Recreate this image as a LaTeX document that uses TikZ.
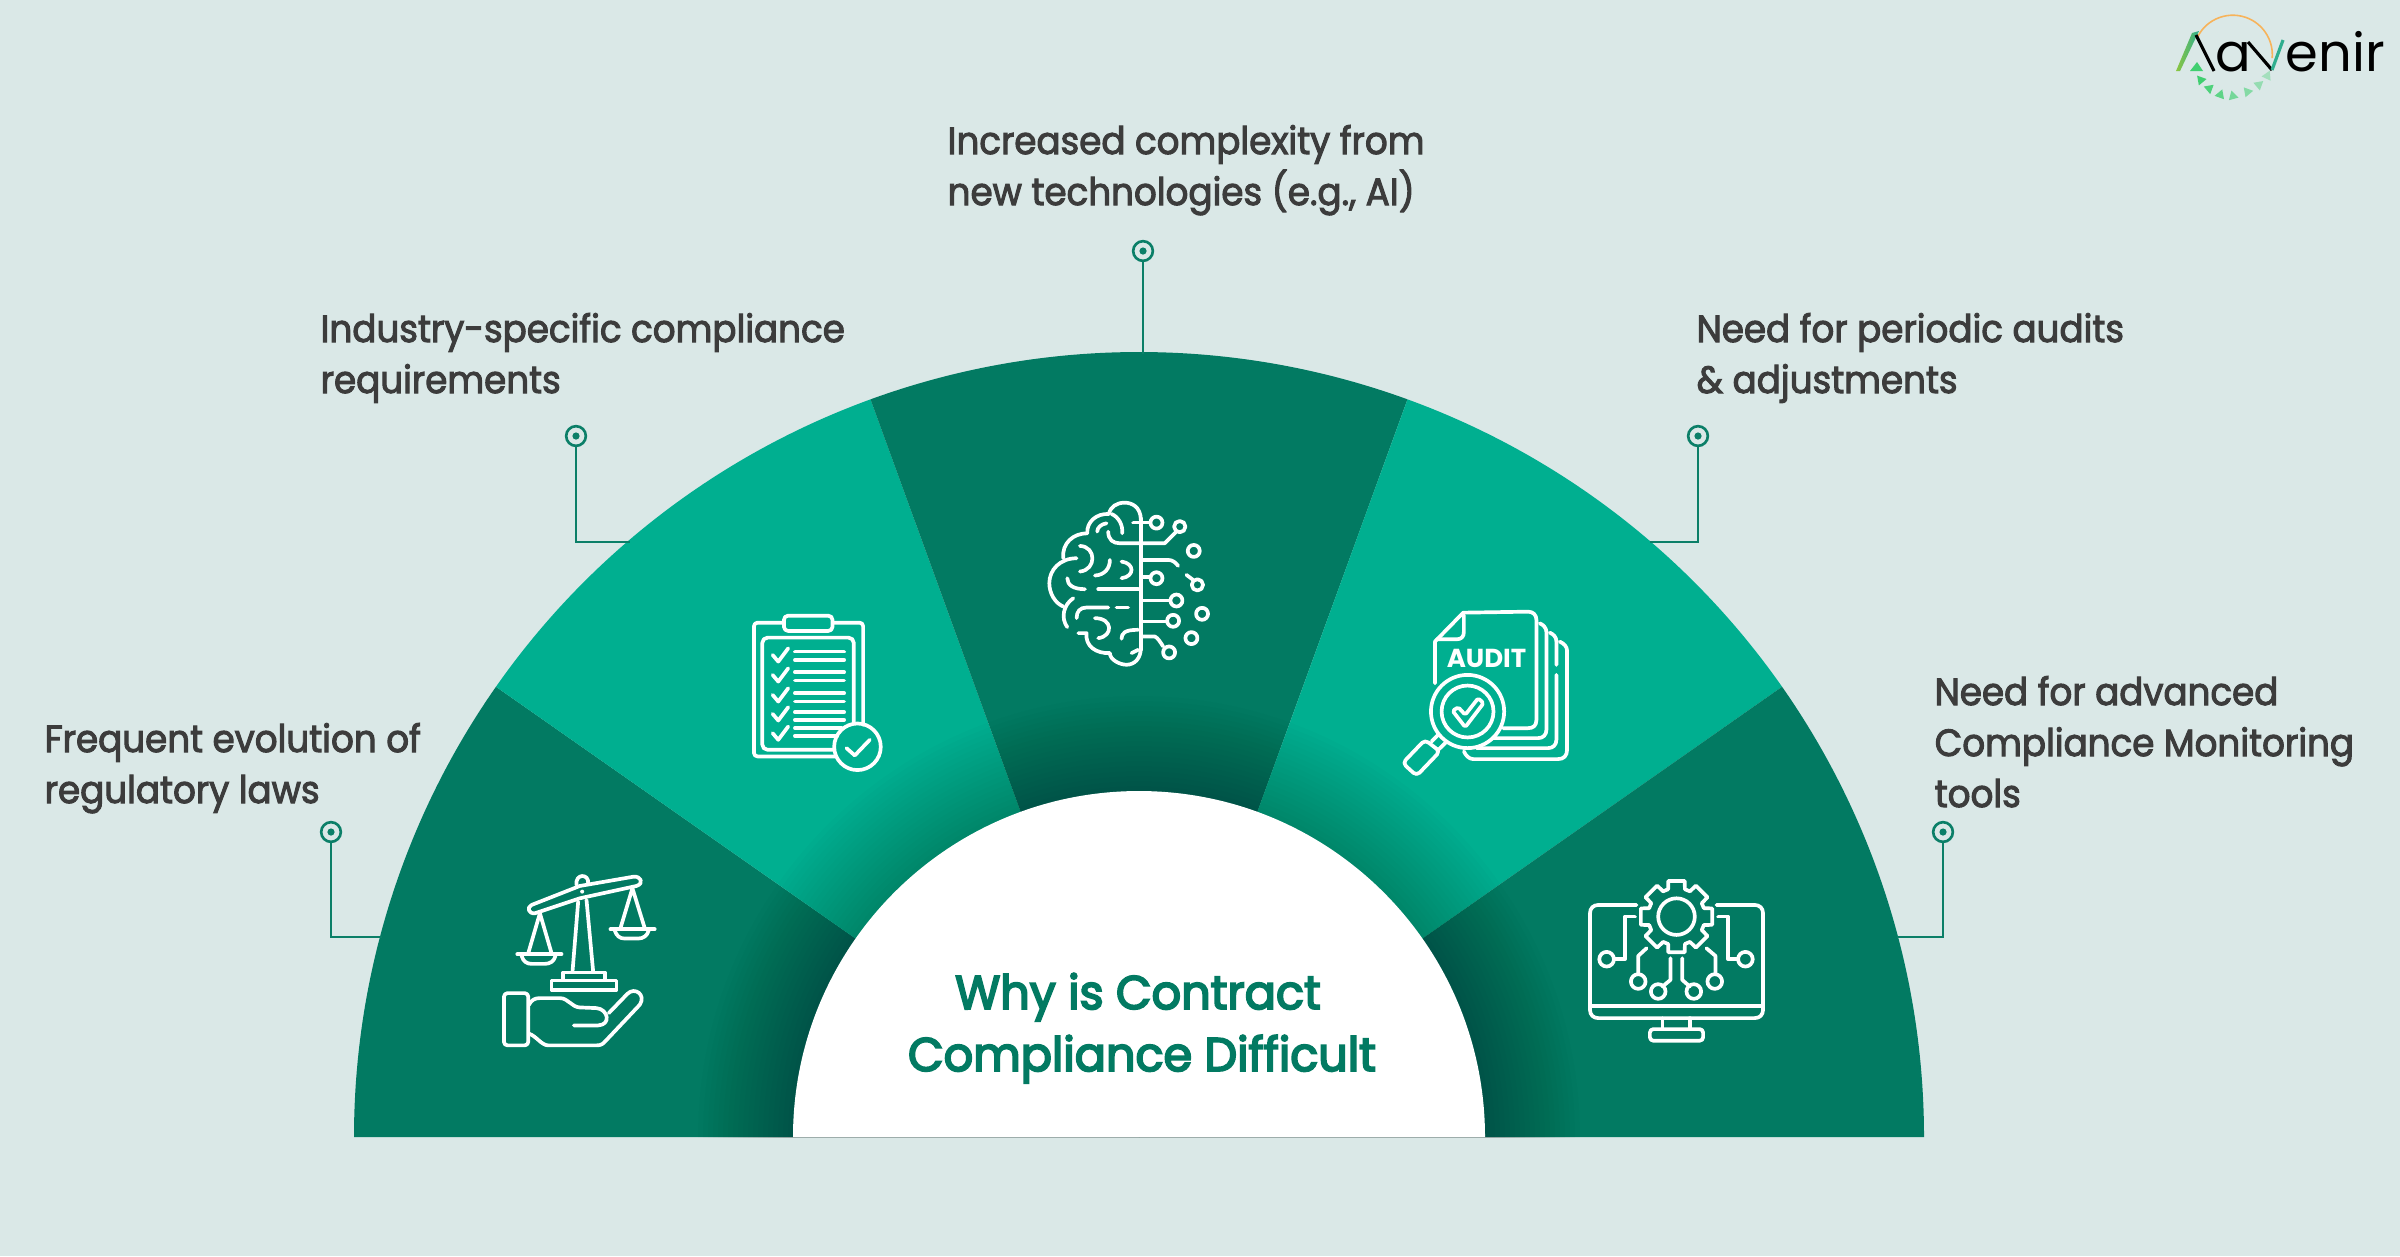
\documentclass[tikz,border=0pt]{standalone}
\usepackage{fontspec}
\setmainfont{Poppins}
\newfontfamily\lblfont{Poppins}[FakeBold=2.6,FakeStretch=0.94]
\newfontfamily\ttlfont{Poppins}[FakeBold=4,FakeStretch=0.98]
\newfontfamily\logofont{Poppins}
\usetikzlibrary{calc}
\definecolor{bgc}{HTML}{DAE8E7}
\definecolor{darkteal}{HTML}{027A62}
\definecolor{lightteal}{HTML}{00AF90}
\definecolor{txtc}{HTML}{3C3C3C}
\definecolor{linec}{HTML}{0B7F68}
\definecolor{orangec}{HTML}{F7B35A}
\tikzset{
  lbl/.style={anchor=base west,inner sep=0pt,text=txtc,font=\lblfont\fontsize{10.8}{14}\selectfont},
  ttl/.style={anchor=base,inner sep=0pt,text=darkteal,font=\ttlfont\fontsize{13.4}{16}\selectfont},
  conn/.style={draw=linec,line width=0.8pt},
  pinc/.style={circle,draw=linec,line width=0.75pt,minimum size=5.6pt,inner sep=0pt,fill=bgc},
  ico/.style={draw=white,line width=1.05pt,line cap=round,line join=round},
  iconsc/.style={x=0.003333cm,y=-0.003333cm},
}
\begin{document}
\begin{tikzpicture}[x=0.01cm,y=-0.01cm]
\useasboundingbox (0,0) rectangle (2400,1256);
\fill[bgc] (0,0) rectangle (2400,1256);
% sectors
\coordinate (c) at (1139,1137);
\def\Ro{785}\def\Ri{346}
\fill[darkteal] (c) -- ++(-180:\Ro) arc[start angle=-180,end angle=-145,radius=\Ro] -- cycle;
\fill[lightteal] (c) -- ++(-145:\Ro) arc[start angle=-145,end angle=-110,radius=\Ro] -- cycle;
\fill[darkteal] (c) -- ++(-110:\Ro) arc[start angle=-110,end angle=-70,radius=\Ro] -- cycle;
\fill[lightteal] (c) -- ++(-70:\Ro) arc[start angle=-70,end angle=-35,radius=\Ro] -- cycle;
\fill[darkteal] (c) -- ++(-35:\Ro) arc[start angle=-35,end angle=0,radius=\Ro] -- cycle;
% shadow
\begin{scope}
\clip (0,0) rectangle (2400,1137);
\foreach \r in {346,351,...,441}{\fill[black,opacity=0.012] (c) circle[radius=\r];}
\end{scope}
\fill[white] (c) -- ++(-180:\Ri) arc[start angle=-180,end angle=0,radius=\Ri] -- cycle;
% title
\node[ttl] (t1) at (1138,1009) {Why is Contract};
\node[ttl] (t2) at (1142,1071) {Compliance Difficult};
% labels
\node[lbl] (l1) at (44,752) {Frequent evolution of};
\node[lbl] (l1b) at (44,803) {regulatory laws};
\node[lbl] (l2) at (320,342) {Industry-specific compliance};
\node[lbl] (l2b) at (320,393) {requirements};
\node[lbl] (l3) at (947,154) {Increased complexity from};
\node[lbl] (l3b) at (947,205) {new technologies (e.g., AI)};
\node[lbl] (l4) at (1696,342) {Need for periodic audits};
\node[lbl] (l4b) at (1696,393) {\& adjustments};
\node[lbl] (l5) at (1934,705) {Need for advanced};
\node[lbl] (l5b) at (1934,756) {Compliance Monitoring};
\node[lbl] (l5c) at (1934,807) {tools};
% pins and connectors
\node[pinc] (p1) at (331,832) {};
\node[pinc] (p2) at (576,436) {};
\node[pinc] (p3) at (1143,251) {};
\node[pinc] (p4) at (1698,436) {};
\node[pinc] (p5) at (1943,832) {};
\coordinate (e1) at (382,937);
\coordinate (e2) at (630,542);
\coordinate (e3) at (1143,354);
\coordinate (e4) at (1650,542);
\coordinate (e5) at (1897,937);
\draw[conn] (p1) |- (e1);
\draw[conn] (p2) |- (e2);
\draw[conn] (p3) -- (e3);
\draw[conn] (p4) |- (e4);
\draw[conn] (p5) |- (e5);
\foreach \p in {p1,p2,p3,p4,p5}{\fill[linec] (\p) circle[radius=3.6];}
% --- scales icon
\begin{scope}[shift={(480,850)},iconsc,ico]
\draw (155,165) -- (300,108) -- (462,80) .. controls (482,78) and (495,100) .. (470,108) -- (300,145) -- (165,190) .. controls (145,192) and (140,172) .. (155,165);
\draw (290,105) .. controls (285,70) and (328,70) .. (325,100);
\fill[white,draw=none] (307,125) circle[radius=6];
\draw (295,155) -- (278,365) (320,150) -- (340,365);
\draw (250,368) rectangle (375,392);
\draw (215,392) rectangle (410,421);
\draw (180,190) -- (145,310) (180,190) -- (215,310);
\draw (112,313) -- (245,313);
\draw (125,318) .. controls (130,335) and (140,342) .. (155,342) -- (195,342) .. controls (210,342) and (222,335) .. (227,318);
\draw (458,115) -- (422,235) (458,115) -- (495,235);
\draw (392,238) -- (525,238);
\draw (405,242) .. controls (410,258) and (420,266) .. (435,266) -- (475,266) .. controls (490,266) and (502,258) .. (507,242);
\draw[rounded corners=1pt] (72,430) rectangle (145,587);
\draw (147,465) .. controls (155,450) and (165,445) .. (180,445) -- (240,445) .. controls (265,445) and (275,472) .. (300,473) -- (350,475) .. controls (385,478) and (395,525) .. (355,527) -- (282,527);
\draw (387,490) -- (443,432) .. controls (465,410) and (500,435) .. (480,465) -- (378,573) .. controls (370,582) and (365,587) .. (350,587) -- (205,587) .. controls (185,587) and (170,560) .. (148,552);
\end{scope}
% --- clipboard icon
\begin{scope}[shift={(730,600)},iconsc,ico]
\draw[rounded corners=1pt] (160,68) -- (72,68) -- (72,470) -- (315,470);
\draw[rounded corners=1pt] (310,68) -- (400,68) -- (400,375);
\draw[rounded corners=1.2pt] (162,47) rectangle (308,93);
\draw[rounded corners=1.5pt] (372,370) -- (372,113) -- (97,113) -- (97,450) -- (312,450);
\foreach \dy in {0,60,120,177,235}{\draw (128,165+\dy) -- (145,185+\dy) -- (175,145+\dy);}
\foreach \yy in {155,180,217,242,280,305,337,360}{\draw (195,\yy) -- (343,\yy);}
\draw (195,385) -- (335,385);
\draw (195,408) -- (322,408);
\draw (383,441) circle[radius=70];
\draw (350,445) -- (375,467) -- (420,420);
\end{scope}
% --- brain icon
\begin{scope}[shift={(1030,490)},iconsc,ico]
\draw (333,480) -- (333,85);
\draw (333,90) .. controls (333,50) and (305,38) .. (285,38) .. controls (260,38) and (242,50) .. (237,72) .. controls (200,70) and (170,95) .. (172,130) .. controls (130,130) and (95,160) .. (100,205);
\draw (140,205) .. controls (90,205) and (58,240) .. (58,280) .. controls (58,310) and (75,340) .. (100,350);
\draw (130,325) .. controls (100,345) and (92,385) .. (112,412);
\draw (145,430) -- (170,430) .. controls (165,470) and (200,492) .. (240,490) .. controls (240,510) and (270,525) .. (290,525) .. controls (315,525) and (333,505) .. (333,475);
\draw (235,125) .. controls (235,150) and (250,160) .. (270,160) -- (405,160) -- (440,125);
\draw (450,110) circle[radius=17];
\draw (310,98) -- (360,98);
\draw (380,98) circle[radius=18];
\draw (492,183) circle[radius=18];
\draw (340,210) -- (415,210) .. controls (428,210) and (438,218) .. (445,228);
\draw (340,262) -- (360,262);
\draw (380,265) circle[radius=18];
\draw (470,255) -- (490,270);
\draw (503,285) circle[radius=17];
\draw (205,298) -- (325,298);
\draw (340,332) -- (420,332);
\draw (440,332) circle[radius=18];
\draw (517,372) circle[radius=18];
\draw (340,395) -- (410,395);
\draw (430,393) circle[radius=18];
\draw (340,440) -- (375,440) .. controls (385,445) and (392,458) .. (400,470);
\draw (418,488) circle[radius=18];
\draw (485,445) circle[radius=18];
\draw (202,125) .. controls (202,112) and (215,102) .. (230,100);
\draw (277,130) .. controls (280,105) and (265,80) .. (245,72);
\draw (150,168) .. controls (200,170) and (200,240) .. (150,245);
\draw (195,257) .. controls (225,255) and (240,235) .. (240,210);
\draw (275,215) .. controls (315,220) and (315,260) .. (275,265);
\draw (112,265) .. controls (112,285) and (130,298) .. (165,298);
\draw (140,385) .. controls (140,365) and (150,353) .. (170,353) -- (235,353);
\draw (260,353) -- (295,353);
\draw (195,385) .. controls (250,385) and (250,440) .. (205,445);
\draw (275,447) .. controls (275,430) and (285,420) .. (325,420);
\draw (305,490) -- (325,480);
\end{scope}
% --- audit icon
\begin{scope}[shift={(1390,600)},iconsc,ico]
\draw (135,250) -- (135,125) -- (220,38) -- (415,35) .. controls (430,35) and (440,45) .. (440,60) -- (440,360) .. controls (440,378) and (430,385) .. (415,385) -- (340,385);
\draw (222,45) -- (222,95) .. controls (222,110) and (215,118) .. (200,118) -- (140,118);
\draw (450,70) .. controls (462,75) and (470,85) .. (470,97) -- (470,390) .. controls (470,405) and (460,415) .. (445,415) -- (310,415);
\draw (480,98) .. controls (492,103) and (500,112) .. (500,125) -- (500,195);
\draw (500,225) -- (500,420) .. controls (500,435) and (490,445) .. (475,445) -- (260,445);
\draw (510,125) .. controls (522,130) and (532,140) .. (532,152) -- (532,450) .. controls (532,468) and (522,478) .. (505,478) -- (250,478) .. controls (238,478) and (228,468) .. (222,455);
\node[inner sep=0pt,text=white,font=\bfseries\fontsize{7.4}{8}\selectfont] (audit) at (290,176) {AUDIT};
\draw (233,335) circle[radius=110];
\draw (233,335) circle[radius=78];
\draw[rounded corners=0.5pt] (188,333) -- (205,322) -- (226,345) -- (265,295) -- (281,310) -- (226,382) -- cycle;
\draw (145,405) -- (125,425) (168,428) -- (145,450);
\draw[rounded corners=1.2pt] (105,420) -- (150,455) -- (80,528) -- (38,490) -- cycle;
\end{scope}
% --- monitor icon
\begin{scope}[shift={(1570,870)},iconsc,ico]
\draw (200,105) -- (85,105) .. controls (70,105) and (60,115) .. (60,130) -- (60,420) .. controls (60,435) and (70,445) .. (85,445) -- (555,445) .. controls (570,445) and (580,435) .. (580,420) -- (580,130) .. controls (580,115) and (570,105) .. (555,105) -- (440,105);
\draw (60,408) -- (580,408);
\draw (278,445) -- (278,478) (360,445) -- (360,478);
\draw[rounded corners=1pt] (240,478) rectangle (400,513);
\draw (320,140) circle[radius=55];
\foreach \a in {0,45,...,315}{
  \draw ($(320,140)+(\a-17:86)$) -- ($(320,140)+(\a-13:110)$) -- ($(320,140)+(\a+13:110)$) -- ($(320,140)+(\a+17:86)$) -- ($(320,140)+(\a+28:86)$);
}
\draw (195,140) -- (165,140) -- (165,268) -- (132,268);
\draw (110,268) circle[radius=22];
\draw (445,140) -- (475,140) -- (475,268) -- (505,268);
\draw (527,268) circle[radius=22];
\draw (230,235) -- (205,258) -- (205,312);
\draw (205,335) circle[radius=22];
\draw (302,265) -- (302,330) -- (278,350);
\draw (265,365) circle[radius=22];
\draw (337,265) -- (337,330) -- (360,350);
\draw (372,365) circle[radius=22];
\draw (410,235) -- (437,258) -- (437,312);
\draw (435,335) circle[radius=22];
\end{scope}
% --- logo
\definecolor{lg1}{HTML}{8CC63F}
\definecolor{lg2}{HTML}{2FAE8E}
\draw[orangec,line width=0.45pt] (2197,38) arc[start angle=-155,end angle=5,radius=39.5];
\shade[left color=lg1,right color=lg2] (2176,71) -- (2192,33) -- (2199,31) -- (2180,71) -- cycle;
\draw[black,line width=0.9pt] (2196,35) -- (2214,71);
\fill[green!50!teal!75] (2190,71) -- (2203,71) -- (2197,62) -- cycle;
\node[anchor=base west,inner sep=0pt,text=black,font=\logofont\fontsize{15}{18}\selectfont] (la) at (2215,71) {a};
\draw[black,line width=0.9pt] (2248,42) -- (2272,70);
\draw[lg2,line width=0.9pt] (2272,70) -- (2283,40);
\node[anchor=base west,inner sep=0pt,text=black,font=\logofont\fontsize{15}{18}\selectfont] (lb) at (2285,71) {enir};
\foreach \x/\y/\a/\o in {2200/79/0/1,2208/88/-30/.9,2219/95/-60/.8,2232/97/-95/.65,2247/93/-120/.55,2259/86/-150/.45,2268/77/-175/.35}{
  \fill[green!50!teal!75,opacity=\o] (\x,\y) ++(\a:6.5) -- ++(\a+140:10) -- ++(\a+260:10) -- cycle;
}
\end{tikzpicture}
\end{document}
